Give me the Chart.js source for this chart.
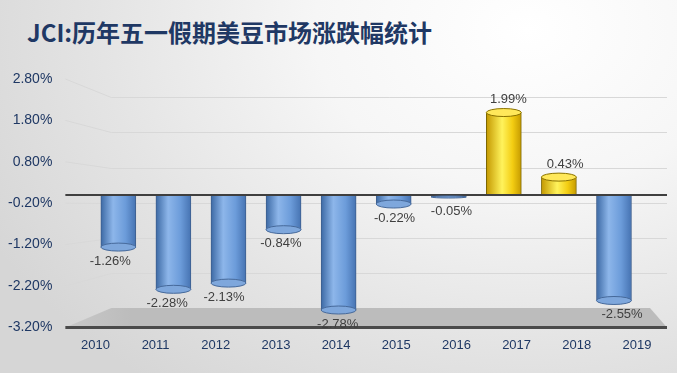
<!DOCTYPE html>
<html>
<head>
<meta charset="utf-8">
<script src="https://cdn.jsdelivr.net/npm/chart.js@4.4.1/dist/chart.umd.min.js"></script>
<style>
  html, body { margin: 0; padding: 0; }
  body {
    width: 677px; height: 373px; overflow: hidden; position: relative;
    background: radial-gradient(ellipse 90% 120% at 78% 8%, #ffffff 0%, #f6f6f6 35%, #e4e4e4 70%, #d6d6d6 100%);
  }
  #title {
    position: absolute; left: 27px; top: 17px; margin: 0;
    font: bold 24px/30px "Noto Sans CJK SC", sans-serif;
    color: #1f3864; white-space: nowrap;
  }
  #chart { position: absolute; left: 0; top: 0; }
</style>
</head>
<body>
<h1 id="title">JCI:历年五一假期美豆市场涨跌幅统计</h1>
<canvas id="chart" width="677" height="373"></canvas>
<script>
// ---- Data ----------------------------------------------------------------
const years   = ["2010", "2011", "2012", "2013", "2014", "2015", "2016", "2017", "2018", "2019"];
const changes = [-1.26, -2.28, -2.13, -0.84, -2.78, -0.22, -0.05, 1.99, 0.43, -2.55];
const yTicks  = [-3.2, -2.2, -1.2, -0.2, 0.8, 1.8, 2.8];

const BAR_W = 35;
const SIDE = 46;   // width of the slanted side wall
const pct = (v) => v.toFixed(2) + "%";

// cylinder shading across each bar
const cylinder = (c) => {
  const chart = c.chart;
  if (!chart.chartArea || !c.raw) return "#5b8bd0";
  const cx = chart.scales.xb.getPixelForValue(c.raw.x);
  const g = chart.ctx.createLinearGradient(cx - BAR_W / 2, 0, cx + BAR_W / 2, 0);
  if (c.raw.y >= 0) {
    g.addColorStop(0, "#c49800");
    g.addColorStop(0.45, "#fff35c");
    g.addColorStop(0.75, "#f3cd12");
    g.addColorStop(1, "#c59a00");
  } else {
    g.addColorStop(0, "#3c69a4");
    g.addColorStop(0.35, "#8db6ea");
    g.addColorStop(0.7, "#6c9cda");
    g.addColorStop(1, "#4673b2");
  }
  return g;
};

// ---- Back wall, floor, baseline ------------------------------------------
const wall = {
  id: "wall",
  beforeDatasetsDraw(chart) {
    const { ctx, chartArea: a, scales: { y, yb } } = chart;
    ctx.save();
    const fy = yb.getPixelForValue(yTicks[0]);
    const fg = ctx.createLinearGradient(a.left, 0, a.left + SIDE + 20, 0);
    fg.addColorStop(0, "#c8c8c8");
    fg.addColorStop(1, "#bcbcbc");
    ctx.fillStyle = fg;
    ctx.beginPath();
    ctx.moveTo(a.left, a.bottom);
    ctx.lineTo(a.left + SIDE, fy);
    ctx.lineTo(a.right - 17, fy);
    ctx.lineTo(a.right, a.bottom);
    ctx.closePath();
    ctx.fill();

    ctx.strokeStyle = "#d8d8d8";
    ctx.lineWidth = 1;
    yTicks.slice(1).forEach((v) => {
      const yb0 = Math.round(yb.getPixelForValue(v)) + 0.5;
      ctx.beginPath();
      ctx.moveTo(a.left, y.getPixelForValue(v));
      ctx.lineTo(a.left + SIDE, yb0);
      ctx.lineTo(a.right, yb0);
      ctx.stroke();
    });

    ctx.strokeStyle = "#4a4a4a";
    ctx.lineWidth = 3;
    ctx.beginPath();
    ctx.moveTo(a.left, a.bottom);
    ctx.lineTo(a.right, a.bottom);
    ctx.stroke();
    ctx.restore();
  },
  afterDatasetsDraw(chart) {
    const { ctx, chartArea: a, scales: { y } } = chart;
    const meta = chart.getDatasetMeta(0);
    ctx.save();
    // zero line
    const y0 = y.getPixelForValue(0);
    ctx.strokeStyle = "#3f3f3f";
    ctx.lineWidth = 2;
    ctx.beginPath();
    ctx.moveTo(a.left, y0);
    ctx.lineTo(a.right, y0);
    ctx.stroke();

    ctx.font = "13px 'Liberation Sans', Arial, sans-serif";
    ctx.textAlign = "center";
    ctx.textBaseline = "middle";
    meta.data.forEach((el, i) => {
      const v = changes[i];
      const ry = Math.min(4, Math.abs(el.base - el.y) / 2);
      ctx.beginPath();
      ctx.ellipse(el.x, el.y, BAR_W / 2, ry, 0, 0, Math.PI * 2);
      ctx.fillStyle = v >= 0 ? "#ffe85a" : "#7ea7dc";
      ctx.strokeStyle = v >= 0 ? "#8a7200" : "#46699a";
      ctx.lineWidth = 1;
      ctx.fill();
      ctx.stroke();

      ctx.fillStyle = "#404040";
      const lx = el.x + (i - 4.5) * 1.8;
      ctx.fillText(pct(v), lx, v < 0 ? el.y + 14 : el.y - 13);
    });
    ctx.restore();
  }
};

// ---- Chart ---------------------------------------------------------------
new Chart(document.getElementById("chart"), {
  type: "bar",
  data: {
    labels: years,
    datasets: [{
      data: changes.map((v, i) => ({ x: i, y: v })),
      xAxisID: "xb",
      yAxisID: "y",
      backgroundColor: cylinder,
      borderColor: (c) => (c.raw && c.raw.y >= 0 ? "#7d6700" : "#3e5f8e"),
      borderWidth: 1,
      barThickness: BAR_W
    }]
  },
  options: {
    responsive: false,
    animation: false,
    layout: { padding: { top: 79, left: -5, right: 10, bottom: 10 } },
    plugins: { legend: { display: false }, tooltip: { enabled: false }, title: { display: false } },
    scales: {
      x: {
        type: "category",
        labels: years,
        offset: true,
        grid: { display: false, drawTicks: false },
        border: { display: false },
        ticks: { color: "#1f3864", padding: 10, font: { family: "'Liberation Sans', Arial, sans-serif", size: 13 } }
      },
      xb: { type: "linear", display: false, offset: false, grid: { offset: false }, min: -0.962, max: 9.963 },
      y: {
        min: -3.2,
        max: 2.8,
        afterBuildTicks: (s) => { s.ticks = yTicks.map((v) => ({ value: v })); },
        grid: { display: false, drawTicks: false },
        border: { display: false },
        ticks: {
          color: "#1f3864",
          padding: 13,
          font: { family: "'Liberation Sans', Arial, sans-serif", size: 14 },
          callback: (v) => pct(v)
        }
      },
      yb: { type: "linear", display: false, min: -3.75, max: 3.32 }
    }
  },
  plugins: [wall]
});
</script>
</body>
</html>
